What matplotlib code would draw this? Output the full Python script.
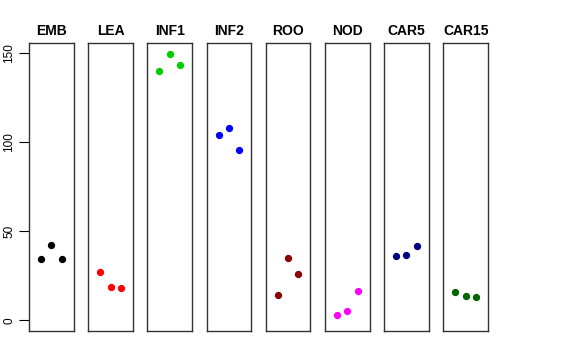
import matplotlib
matplotlib.use('Agg')
import matplotlib.pyplot as plt

# Tissue groups and their three replicate values
tissues = ['EMB', 'LEA', 'INF1', 'INF2', 'ROO', 'NOD', 'CAR5', 'CAR15']
values = {
    'EMB': [34.2, 42.4, 34.2],
    'LEA': [27.2, 18.7, 18.1],
    'INF1': [139.6, 149.5, 143.1],
    'INF2': [103.9, 108.0, 95.8],
    'ROO': [14.4, 34.9, 26.0],
    'NOD': [3.0, 5.4, 16.4],
    'CAR5': [36.0, 36.6, 41.5],
    'CAR15': [15.9, 13.6, 13.1],
}
colors = ['black', 'red', '#00CD00', 'blue', '#8B0000', 'magenta', '#000080', '#006400']
replicates = [1, 2, 3]
y_ticks = [0, 50, 100, 150]

plt.rcParams['font.family'] = ['Liberation Sans', 'DejaVu Sans']

fig = plt.figure(figsize=(5.76, 3.6), dpi=100)
left, right, bottom, top = 29 / 576, 488 / 576, 1 - 331 / 360, 1 - 43.3 / 360
n = len(tissues)
width = 44.7 / 576
step = (right - left - width) / (n - 1)

for i, (name, col) in enumerate(zip(tissues, colors)):
    ax = fig.add_axes([left + i * step, bottom, width, top - bottom])
    ax.scatter(replicates, values[name], s=18, color=col, zorder=3)
    ax.set_xlim(-0.16, 4.16)
    ax.set_ylim(-6, 155.4)
    ax.set_xticks([])
    for sp in ax.spines.values():
        sp.set_color('#333333')
        sp.set_linewidth(1.0)
    ax.set_title(name, fontsize=10, fontweight='bold', pad=6)
    if i == 0:
        ax.set_yticks(y_ticks)
        ax.set_yticklabels([str(t) for t in y_ticks], rotation=90, va='center')
        ax.tick_params(axis='y', length=7, width=0.8, labelsize=8.5, pad=3)
    else:
        ax.set_yticks([])

fig.savefig('out.png', dpi=100)
